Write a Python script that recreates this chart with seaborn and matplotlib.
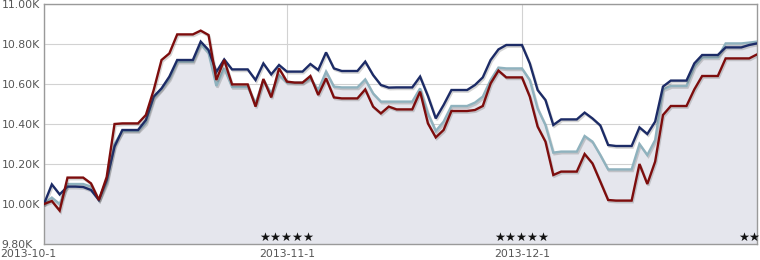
import numpy as np
import pandas as pd
import matplotlib
matplotlib.use("Agg")
import matplotlib.pyplot as plt
import matplotlib.patheffects as pe
import matplotlib.transforms as mtransforms
import seaborn as sns

# ---------------- data ----------------
start_date = "2013-10-01"
end_date = "2013-12-31"

navy_values = [
    10000, 10098, 10048, 10087, 10087, 10085, 10070, 10020, 10120, 10287,
    10370, 10370, 10370, 10420, 10537, 10578, 10637, 10720, 10720, 10720,
    10812, 10770, 10660, 10723, 10673, 10673, 10673, 10620, 10703, 10648,
    10695, 10662, 10662, 10662, 10700, 10670, 10758, 10678, 10665, 10665,
    10665, 10712, 10645, 10595, 10582, 10583, 10583, 10583, 10637, 10540,
    10428, 10495, 10570, 10570, 10570, 10595, 10633, 10720, 10773, 10795,
    10795, 10795, 10703, 10570, 10520, 10395, 10423, 10423, 10423, 10457,
    10428, 10393, 10295, 10290, 10290, 10290, 10383, 10350, 10412, 10587,
    10617, 10617, 10617, 10703, 10745, 10745, 10745, 10783, 10783, 10783,
    10795, 10803,
]

red_values = [
    10000, 10015, 9967, 10132, 10132, 10132, 10103, 10020, 10135, 10400,
    10403, 10403, 10403, 10445, 10570, 10720, 10753, 10848, 10848, 10848,
    10867, 10845, 10620, 10720, 10598, 10598, 10598, 10487, 10625, 10533,
    10678, 10612, 10607, 10607, 10640, 10545, 10628, 10533, 10528, 10528,
    10528, 10573, 10487, 10453, 10487, 10473, 10473, 10473, 10562, 10403,
    10333, 10370, 10465, 10465, 10465, 10470, 10490, 10603, 10667, 10633,
    10633, 10633, 10537, 10387, 10312, 10145, 10162, 10162, 10162, 10250,
    10203, 10112, 10020, 10017, 10017, 10017, 10200, 10100, 10212, 10445,
    10490, 10490, 10490, 10573, 10640, 10640, 10640, 10728, 10728, 10728,
    10728, 10748,
]

light_values = [
    10000, 10032, 10000, 10100, 10100, 10100, 10087, 10020, 10107, 10300,
    10365, 10365, 10365, 10405, 10530, 10575, 10625, 10712, 10712, 10712,
    10800, 10755, 10590, 10680, 10585, 10585, 10585, 10503, 10620, 10553,
    10645, 10607, 10607, 10607, 10628, 10570, 10662, 10587, 10583, 10583,
    10583, 10623, 10553, 10512, 10512, 10512, 10512, 10512, 10578, 10453,
    10365, 10412, 10490, 10490, 10490, 10507, 10537, 10620, 10682, 10678,
    10678, 10678, 10620, 10478, 10395, 10257, 10262, 10262, 10262, 10340,
    10312, 10245, 10173, 10173, 10173, 10173, 10300, 10245, 10320, 10573,
    10590, 10590, 10590, 10687, 10733, 10733, 10733, 10803, 10803, 10803,
    10807, 10812,
]

series_names = ["light", "navy", "red"]
series_colors = {"light": "#8fb2be", "navy": "#1c2b66", "red": "#7d0d0d"}

y_ticks = [9800, 10000, 10200, 10400, 10600, 10800, 11000]
y_tick_labels = ["9.80K", "10.00K", "10.20K", "10.40K", "10.60K", "10.80K", "11.00K"]

x_tick_dates = ["2013-10-01", "2013-11-01", "2013-12-01"]
x_tick_labels = ["2013-10-1", "2013-11-1", "2013-12-1"]

star_dates = ["2013-11-01", "2013-12-01", "2013-12-30"]
star_labels = ["\u2605\u2605\u2605\u2605\u2605", "\u2605\u2605\u2605\u2605\u2605", "\u2605\u2605"]

# ---------------- build frame ----------------
dates = pd.date_range(start_date, end_date, freq="D")
df = pd.DataFrame({"date": dates, "light": light_values,
                   "navy": navy_values, "red": red_values})
long_df = df.melt(id_vars="date", var_name="series", value_name="value")

# ---------------- plot ----------------
sns.set_style("white")
plt.rcParams["font.family"] = ["DejaVu Sans"]

fig = plt.figure(figsize=(7.6, 2.6), dpi=100)
ax = fig.add_axes([44 / 760, 1 - 244 / 260, (757 - 44) / 760, 240 / 260])

ymin, ymax = 9800, 11000
ax.fill_between(df["date"], df["light"], ymin, color="#e5e6ed", zorder=1, lw=0)

shadow = [pe.SimpleLineShadow(offset=(0.8, -1.2), shadow_color="#555555", alpha=0.25),
          pe.Normal()]

sns.lineplot(data=long_df, x="date", y="value", hue="series",
             hue_order=series_names, palette=series_colors,
             linewidth=1.7, ax=ax, legend=False, zorder=3)
for line in ax.get_lines():
    line.set_path_effects(shadow)
    line.set_solid_joinstyle("miter")

ax.set_xlim(dates[0], dates[-1])
ax.set_ylim(ymin, ymax)

ax.set_yticks(y_ticks)
ax.set_yticklabels(y_tick_labels)
xt = pd.to_datetime(x_tick_dates)
ax.set_xticks(xt)
ax.set_xticklabels(x_tick_labels)
ax.set_xlabel("")
ax.set_ylabel("")

ax.tick_params(axis="y", length=0, pad=30.5, labelsize=7.8, labelcolor="#555555")
ax.tick_params(axis="x", length=0, pad=3.5, labelsize=7.8, labelcolor="#555555")
for lab in ax.get_yticklabels():
    lab.set_horizontalalignment("left")

first = ax.get_xticklabels()[0]
first.set_horizontalalignment("left")
first.set_transform(first.get_transform() +
                    mtransforms.ScaledTranslation(-44 / 100, 0, fig.dpi_scale_trans))

ax.grid(True, axis="both", color="#d2d2d2", lw=0.8, zorder=0)
ax.set_axisbelow(True)
for s in ax.spines.values():
    s.set_color("#9a9a9a")
    s.set_linewidth(1.0)

for d, lab in zip(star_dates, star_labels):
    ax.text(pd.Timestamp(d), 9835, lab, ha="center", va="center",
            fontsize=8.8, color="#111111", zorder=5)

fig.savefig("out.png", dpi=100)
